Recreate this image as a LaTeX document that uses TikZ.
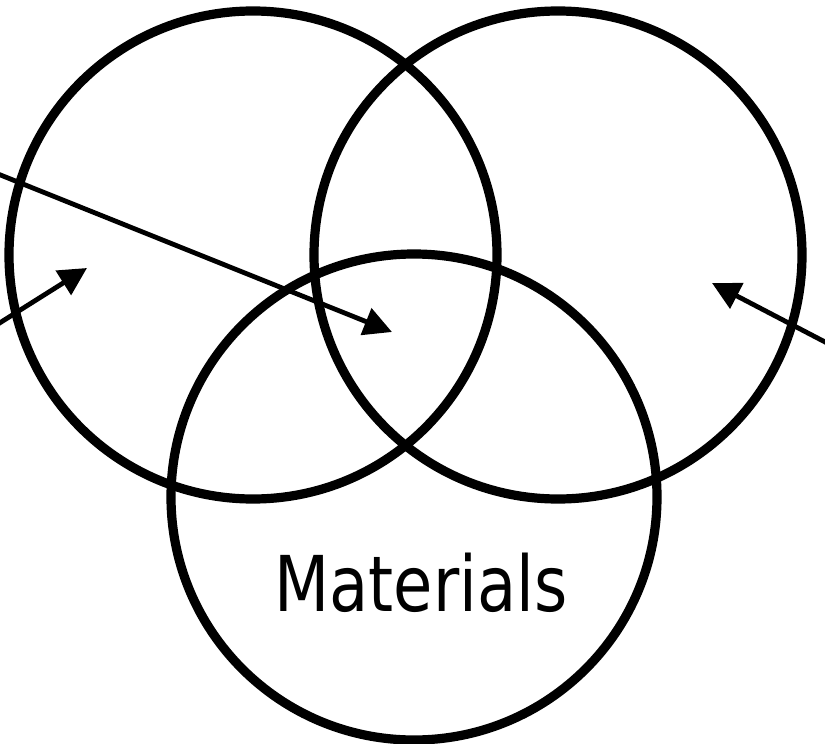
\documentclass[tikz,border=0pt]{standalone}
\usepackage{fontspec}
\newfontfamily\labelfont[FakeStretch=0.83]{DejaVu Sans}
\usetikzlibrary{arrows.meta}
\begin{document}
\begin{tikzpicture}[x=0.5pt,y=-0.5pt,
  ring/.style={draw=black,line width=4.6pt},
  pointer/.style={draw=black,line width=2.4pt,-{Triangle[length=14pt,width=14pt]}}]
\useasboundingbox (0,0) rectangle (825,744);
\fill[white] (0,0) rectangle (825,744);
\coordinate (c1) at (253,255);
\coordinate (c2) at (558,255);
\coordinate (c3) at (414,497);
\draw[ring] (c1) circle [radius=244];
\draw[ring] (c2) circle [radius=244];
\draw[ring] (c3) circle [radius=243];
\node (mat) [anchor=base,inner sep=0pt,font=\labelfont\fontsize{38.5pt}{40pt}\selectfont] at (421,611) {Materials};
\coordinate (s1) at (-2,174);
\coordinate (t1) at (392,332);
\coordinate (s2) at (-2,324);
\coordinate (t2) at (87,268);
\coordinate (s3) at (827,343);
\coordinate (t3) at (712,283);
\draw[pointer] (s1) -- (t1);
\draw[pointer] (s2) -- (t2);
\draw[pointer] (s3) -- (t3);
\end{tikzpicture}
\end{document}
